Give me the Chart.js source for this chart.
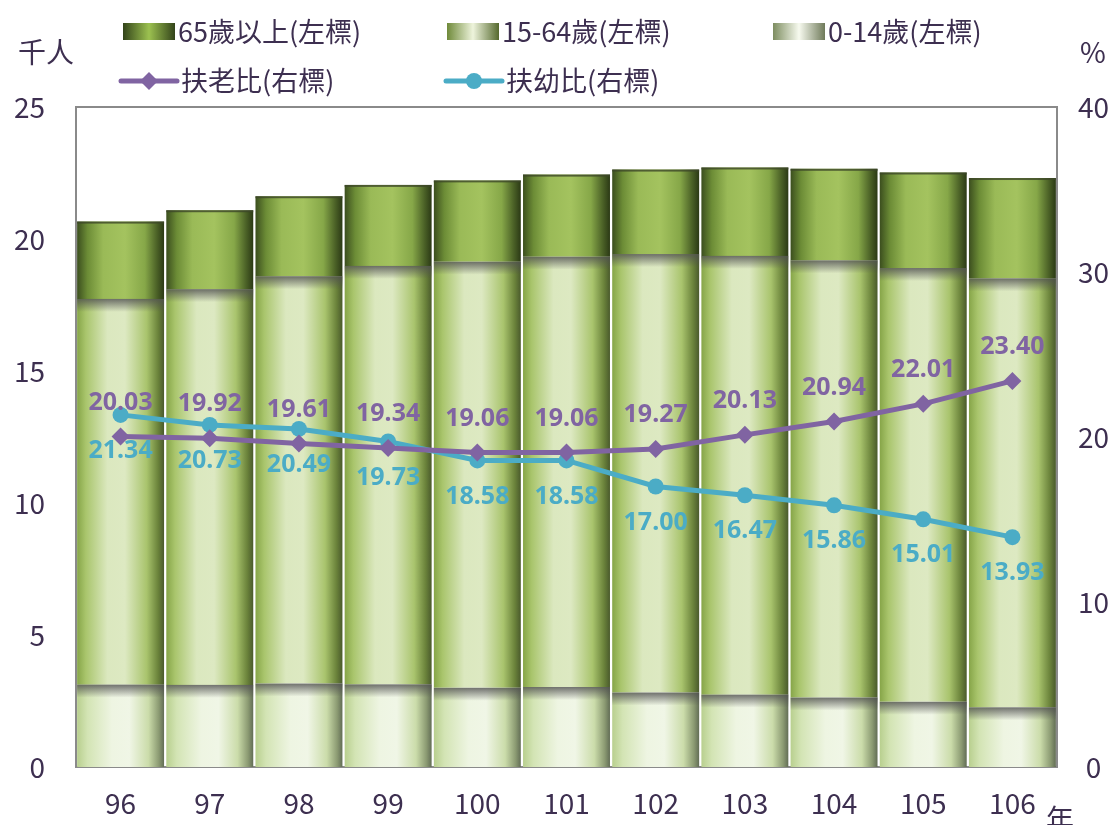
<!DOCTYPE html>
<html>
	<head>
		<meta charset="UTF-8" />
		<title>人口結構與扶養比</title>
		<style type="text/css">
			body {
				margin: 0;
				background-color: #ffffff;
			}
			.chartBox {
				position: relative;
				width: 1114px;
				height: 825px;
			}
		</style>
	</head>
	<body>
		<div class="chartBox">
			<canvas id="myChart"></canvas>
		</div>

		<script src="https://cdn.jsdelivr.net/npm/chart.js@4.4.0/dist/chart.umd.min.js"></script>
		<script>
		// 年度 (民國)
		const years = ['96', '97', '98', '99', '100', '101', '102', '103', '104', '105', '106'];
		// 人口 (千人)
		const age0to14 = [3.12, 3.11, 3.16, 3.13, 3.00, 3.03, 2.82, 2.74, 2.63, 2.47, 2.26];
		const age15to64 = [14.61, 14.99, 15.43, 15.85, 16.14, 16.30, 16.61, 16.62, 16.56, 16.43, 16.25];
		const age65up = [2.93, 2.99, 3.03, 3.07, 3.08, 3.11, 3.20, 3.35, 3.47, 3.62, 3.80];
		// 扶養比 (%)
		const oldRatio = [20.03, 19.92, 19.61, 19.34, 19.06, 19.06, 19.27, 20.13, 20.94, 22.01, 23.40];
		const youngRatio = [21.34, 20.73, 20.49, 19.73, 18.58, 18.58, 17.00, 16.47, 15.86, 15.01, 13.93];

		const leftTicks = [0, 5, 10, 15, 20, 25];
		const rightTicks = [0, 10, 20, 30, 40];

		const FONT = '"Noto Sans CJK TC", "Noto Sans", sans-serif';
		const TEXT = '#3d2f50';
		const PURPLE = '#8064a2';
		const BLUE = '#4bacc6';
		const BAR_PCT = 0.975;

		// horizontal shading of the bars, like a cylinder
		const oldStops = [[0, '#3b4e1e'], [0.12, '#6c8c36'], [0.3, '#9aba57'], [0.55, '#a4c35f'], [0.78, '#86a748'], [0.92, '#4a6026'], [1, '#2b3915']];
		const workStops = [[0, '#86a548'], [0.1, '#a9c56c'], [0.35, '#dbe8bf'], [0.55, '#dde9c2'], [0.8, '#a9c46d'], [0.93, '#6b833b'], [1, '#4a5a2c']];
		const youngStops = [[0, '#b8cf8e'], [0.12, '#d3e4b4'], [0.4, '#eef5e2'], [0.6, '#f0f6e6'], [0.82, '#cbdcaa'], [0.94, '#8b9a72'], [1, '#626d55']];

		function barFill(stops) {
			return function(context) {
				const chart = context.chart;
				if (!chart.chartArea || context.dataIndex === undefined) {
					return stops[3][1];
				}
				const xs = chart.scales.x;
				const cx = xs.getPixelForValue(context.dataIndex);
				const half = xs.width / years.length * BAR_PCT / 2;
				const g = chart.ctx.createLinearGradient(cx - half, 0, cx + half, 0);
				stops.forEach(s => g.addColorStop(s[0], s[1]));
				return g;
			};
		}

		// plot frame
		const framePlugin = {
			id: 'frame',
			beforeDatasetsDraw(chart) {
				const c = chart.ctx;
				const a = chart.chartArea;
				c.save();
				c.strokeStyle = '#8a8a8a';
				c.lineWidth = 2;
				c.strokeRect(a.left, a.top, a.right - a.left, a.bottom - a.top);
				c.restore();
			}
		};

		// soft shadow on top of each stacked segment
		const shadowPlugin = {
			id: 'segShadow',
			afterDatasetDraw(chart, args) {
				const meta = args.meta;
				if (meta.type !== 'bar') return;
				const c = chart.ctx;
				c.save();
				meta.data.forEach(bar => {
					const left = bar.x - bar.width / 2;
					if (meta.index === 2) {
						c.fillStyle = 'rgba(60,70,40,0.8)';
						c.fillRect(left, bar.y, bar.width, 2);
					} else {
						const g = c.createLinearGradient(0, bar.y, 0, bar.y + 13);
						g.addColorStop(0, 'rgba(80,80,80,0.8)');
						g.addColorStop(1, 'rgba(80,80,80,0)');
						c.fillStyle = g;
						c.fillRect(left, bar.y, bar.width, 13);
					}
				});
				c.restore();
			}
		};

		// value labels on the two ratio lines
		const labelPlugin = {
			id: 'pointLabels',
			afterDatasetsDraw(chart) {
				const c = chart.ctx;
				c.save();
				c.font = 'bold 25px "Noto Sans", sans-serif';
				c.textAlign = 'center';
				c.textBaseline = 'middle';
				[[3, -34, PURPLE], [4, 36, BLUE]].forEach(([idx, dy, col]) => {
					const meta = chart.getDatasetMeta(idx);
					const vals = chart.data.datasets[idx].data;
					c.fillStyle = col;
					meta.data.forEach((pt, i) => {
						c.fillText(vals[i].toFixed(2), pt.x, pt.y + dy);
					});
				});
				c.restore();
			}
		};

		// legend and axis titles
		const legendPlugin = {
			id: 'topLegend',
			afterDraw(chart) {
				const c = chart.ctx;
				c.save();
				c.font = '27px ' + FONT;
				c.fillStyle = TEXT;
				c.textBaseline = 'middle';
				c.textAlign = 'left';

				const boxes = [
					[123, '65歲以上(左標)', [[0, '#33441a'], [0.5, '#9cc150'], [1, '#33441a']]],
					[447, '15-64歲(左標)', [[0, '#6f8a3a'], [0.5, '#eef4dc'], [1, '#55692e']]],
					[773, '0-14歲(左標)', [[0, '#7d8d60'], [0.5, '#f7faef'], [1, '#6f7a5a']]]
				];
				boxes.forEach(([x, label, stops]) => {
					const g = c.createLinearGradient(x, 0, x + 52, 0);
					stops.forEach(s => g.addColorStop(s[0], s[1]));
					c.fillStyle = g;
					c.fillRect(x, 23, 52, 17);
					c.fillStyle = TEXT;
					c.fillText(label, x + 55, 32);
				});

				const lines = [
					[121, '扶老比(右標)', PURPLE, 'diamond'],
					[446, '扶幼比(右標)', BLUE, 'circle']
				];
				lines.forEach(([x, label, col, shape]) => {
					c.strokeStyle = col;
					c.fillStyle = col;
					c.lineWidth = 5;
					c.lineCap = 'round';
					c.beginPath();
					c.moveTo(x, 81);
					c.lineTo(x + 56, 81);
					c.stroke();
					const mx = x + 28;
					c.beginPath();
					if (shape === 'diamond') {
						c.moveTo(mx, 72);
						c.lineTo(mx + 9, 81);
						c.lineTo(mx, 90);
						c.lineTo(mx - 9, 81);
						c.closePath();
					} else {
						c.arc(mx, 81, 8, 0, Math.PI * 2);
					}
					c.fill();
					c.fillStyle = TEXT;
					c.fillText(label, x + 60, 81);
				});

				c.font = '28px ' + FONT;
				c.textAlign = 'center';
				c.fillText('千人', 46, 52);
				c.fillText('%', 1093, 52);
				c.fillText('年', 1060, 819);
				c.restore();
			}
		};

		const ctx = document.getElementById('myChart').getContext('2d');

		const config = {
			type: 'bar',
			data: {
				labels: years,
				datasets: [
					{
						label: '0-14歲(左標)',
						data: age0to14,
						backgroundColor: barFill(youngStops),
						stack: 'pop',
						yAxisID: 'y',
						order: 1
					},
					{
						label: '15-64歲(左標)',
						data: age15to64,
						backgroundColor: barFill(workStops),
						stack: 'pop',
						yAxisID: 'y',
						order: 1
					},
					{
						label: '65歲以上(左標)',
						data: age65up,
						backgroundColor: barFill(oldStops),
						stack: 'pop',
						yAxisID: 'y',
						order: 1
					},
					{
						type: 'line',
						label: '扶老比(右標)',
						data: oldRatio,
						borderColor: PURPLE,
						backgroundColor: PURPLE,
						borderWidth: 5,
						pointStyle: 'rectRot',
						pointRadius: 9,
						pointBorderWidth: 0,
						tension: 0,
						yAxisID: 'y1',
						order: 0
					},
					{
						type: 'line',
						label: '扶幼比(右標)',
						data: youngRatio,
						borderColor: BLUE,
						backgroundColor: BLUE,
						borderWidth: 5,
						pointStyle: 'circle',
						pointRadius: 8,
						pointBorderWidth: 0,
						tension: 0,
						yAxisID: 'y1',
						order: 0
					}
				]
			},
			options: {
				responsive: true,
				maintainAspectRatio: false,
				animation: false,
				datasets: {
					bar: {
						barPercentage: BAR_PCT,
						categoryPercentage: 1
					}
				},
				layout: {
					padding: { top: 107, left: 0, right: 0, bottom: 0 }
				},
				plugins: {
					legend: { display: false },
					tooltip: { enabled: false }
				},
				scales: {
					x: {
						stacked: true,
						grid: { display: false, drawTicks: false },
						border: { display: false },
						ticks: {
							color: TEXT,
							font: { family: FONT, size: 28 },
							padding: 20
						},
						afterFit(scale) { scale.height = 58; }
					},
					y: {
						stacked: true,
						position: 'left',
						min: 0,
						max: 25,
						afterBuildTicks(scale) {
							scale.ticks = leftTicks.map(v => ({ value: v }));
						},
						grid: { display: false, drawTicks: false },
						border: { display: false },
						ticks: {
							color: TEXT,
							font: { family: FONT, size: 28 },
							padding: 31
						},
						afterFit(scale) { scale.width = 76; }
					},
					y1: {
						position: 'right',
						min: 0,
						max: 40,
						afterBuildTicks(scale) {
							scale.ticks = rightTicks.map(v => ({ value: v }));
						},
						grid: { display: false, drawTicks: false },
						border: { display: false },
						ticks: {
							color: TEXT,
							font: { family: FONT, size: 28 },
							crossAlign: 'center',
							padding: 21
						},
						afterFit(scale) { scale.width = 57; }
					}
				}
			},
			plugins: [framePlugin, shadowPlugin, labelPlugin, legendPlugin]
		};

		const myChart = new Chart(ctx, config);
		</script>
	</body>
</html>
